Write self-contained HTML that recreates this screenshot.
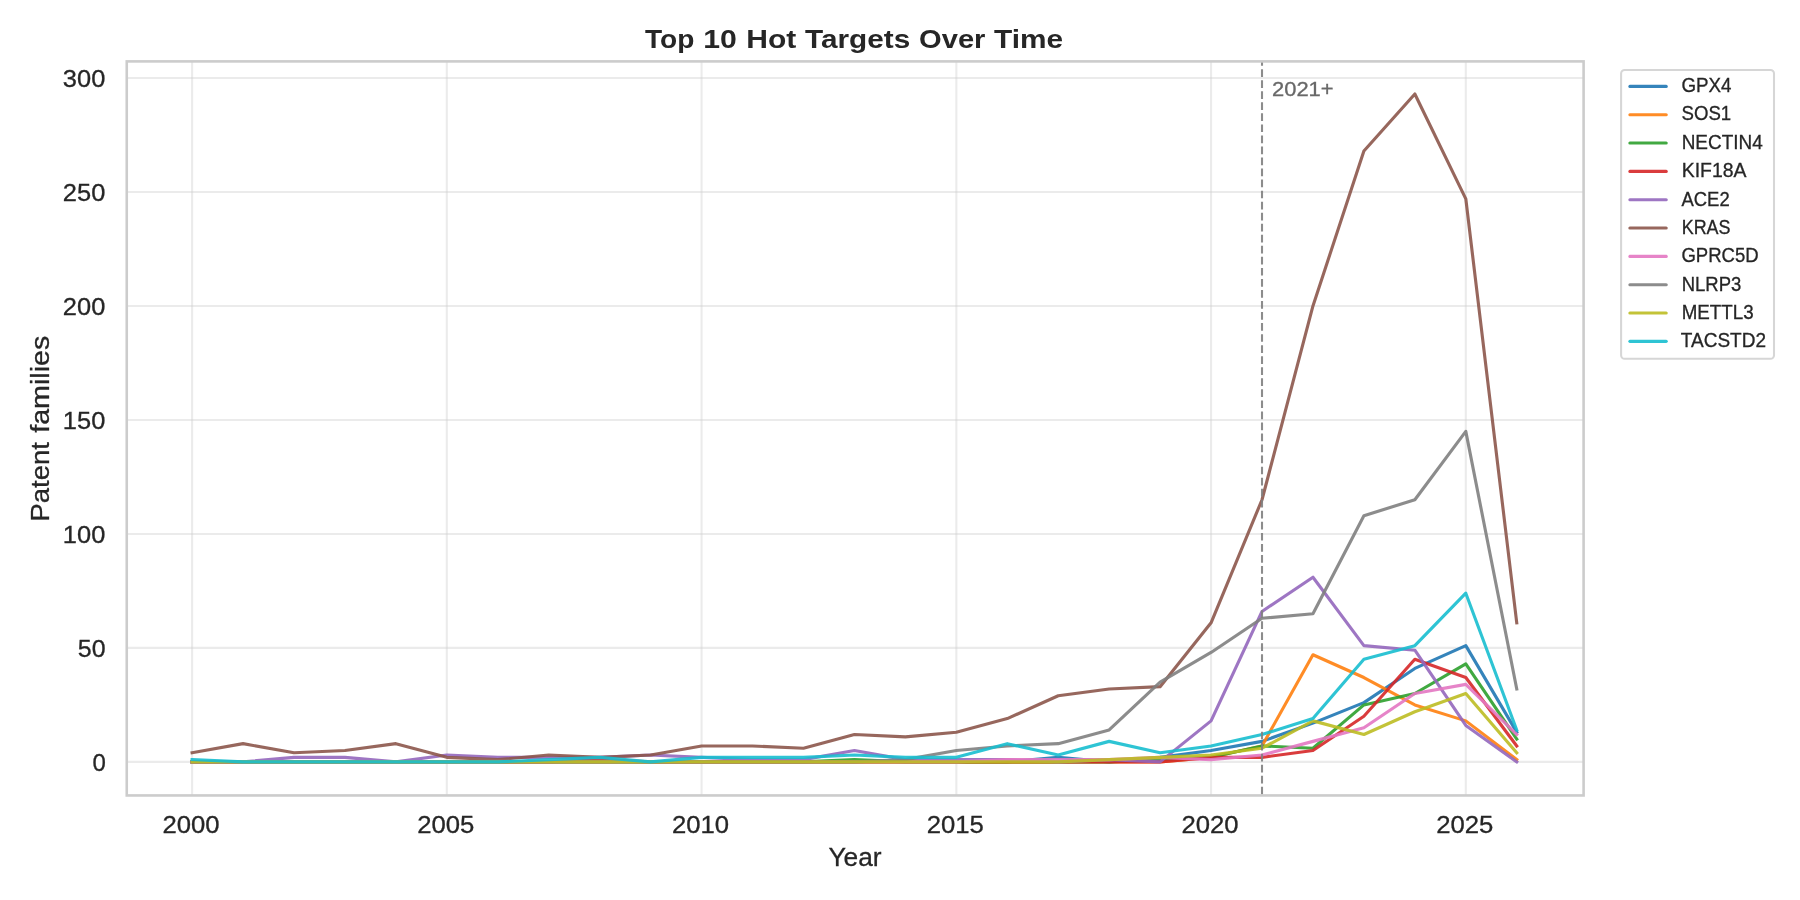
<!DOCTYPE html>
<html><head><meta charset="utf-8"><title>Top 10 Hot Targets Over Time</title>
<style>html,body{margin:0;padding:0;background:#fff;width:1800px;height:900px;overflow:hidden}</style>
</head><body>
<svg width="1800" height="900" viewBox="0 0 1800 900" style="display:block;will-change:transform">
<rect x="0" y="0" width="1800" height="900" fill="#ffffff"/>
<line x1="192.10" y1="61.40" x2="192.10" y2="795.45" stroke="#cccccc" stroke-opacity="0.4" stroke-width="2.08"/>
<line x1="446.84" y1="61.40" x2="446.84" y2="795.45" stroke="#cccccc" stroke-opacity="0.4" stroke-width="2.08"/>
<line x1="701.58" y1="61.40" x2="701.58" y2="795.45" stroke="#cccccc" stroke-opacity="0.4" stroke-width="2.08"/>
<line x1="956.32" y1="61.40" x2="956.32" y2="795.45" stroke="#cccccc" stroke-opacity="0.4" stroke-width="2.08"/>
<line x1="1211.06" y1="61.40" x2="1211.06" y2="795.45" stroke="#cccccc" stroke-opacity="0.4" stroke-width="2.08"/>
<line x1="1465.80" y1="61.40" x2="1465.80" y2="795.45" stroke="#cccccc" stroke-opacity="0.4" stroke-width="2.08"/>
<line x1="126.75" y1="761.90" x2="1583.60" y2="761.90" stroke="#cccccc" stroke-opacity="0.4" stroke-width="2.08"/>
<line x1="126.75" y1="647.91" x2="1583.60" y2="647.91" stroke="#cccccc" stroke-opacity="0.4" stroke-width="2.08"/>
<line x1="126.75" y1="533.93" x2="1583.60" y2="533.93" stroke="#cccccc" stroke-opacity="0.4" stroke-width="2.08"/>
<line x1="126.75" y1="419.94" x2="1583.60" y2="419.94" stroke="#cccccc" stroke-opacity="0.4" stroke-width="2.08"/>
<line x1="126.75" y1="305.96" x2="1583.60" y2="305.96" stroke="#cccccc" stroke-opacity="0.4" stroke-width="2.08"/>
<line x1="126.75" y1="191.97" x2="1583.60" y2="191.97" stroke="#cccccc" stroke-opacity="0.4" stroke-width="2.08"/>
<line x1="126.75" y1="77.99" x2="1583.60" y2="77.99" stroke="#cccccc" stroke-opacity="0.4" stroke-width="2.08"/>
<polyline points="192.10,761.90 243.05,761.90 294.00,761.90 344.94,761.90 395.89,761.90 446.84,761.90 497.79,761.90 548.74,761.90 599.68,761.90 650.63,761.90 701.58,761.90 752.53,761.90 803.48,761.90 854.42,761.90 905.37,761.90 956.32,761.90 1007.27,761.90 1058.22,757.34 1109.16,761.90 1160.11,757.34 1211.06,750.50 1262.01,741.38 1312.96,723.15 1363.90,702.63 1414.85,668.43 1465.80,645.64 1516.75,732.26" fill="none" stroke="#1f77b4" stroke-opacity="0.9" stroke-width="3.125" stroke-linejoin="round" stroke-linecap="square"/>
<polyline points="192.10,761.90 243.05,761.90 294.00,761.90 344.94,761.90 395.89,761.90 446.84,761.90 497.79,761.90 548.74,761.90 599.68,761.90 650.63,761.90 701.58,761.90 752.53,761.90 803.48,761.90 854.42,761.90 905.37,761.90 956.32,761.90 1007.27,761.90 1058.22,761.90 1109.16,761.90 1160.11,761.90 1211.06,757.34 1262.01,745.94 1312.96,654.75 1363.90,677.55 1414.85,704.91 1465.80,720.87 1516.75,759.62" fill="none" stroke="#ff7f0e" stroke-opacity="0.9" stroke-width="3.125" stroke-linejoin="round" stroke-linecap="square"/>
<polyline points="192.10,761.90 243.05,761.90 294.00,761.90 344.94,761.90 395.89,761.90 446.84,761.90 497.79,761.90 548.74,761.90 599.68,761.90 650.63,761.90 701.58,761.90 752.53,761.90 803.48,761.90 854.42,759.62 905.37,761.90 956.32,761.90 1007.27,761.90 1058.22,761.90 1109.16,761.90 1160.11,759.62 1211.06,757.34 1262.01,745.94 1312.96,748.22 1363.90,704.91 1414.85,693.51 1465.80,663.87 1516.75,739.10" fill="none" stroke="#2ca02c" stroke-opacity="0.9" stroke-width="3.125" stroke-linejoin="round" stroke-linecap="square"/>
<polyline points="192.10,761.90 243.05,761.90 294.00,761.90 344.94,761.90 395.89,761.90 446.84,761.90 497.79,761.90 548.74,761.90 599.68,759.62 650.63,761.90 701.58,761.90 752.53,761.90 803.48,761.90 854.42,761.90 905.37,761.90 956.32,761.90 1007.27,761.90 1058.22,761.90 1109.16,761.90 1160.11,761.90 1211.06,757.34 1262.01,757.34 1312.96,750.50 1363.90,716.31 1414.85,659.31 1465.80,677.55 1516.75,745.94" fill="none" stroke="#d62728" stroke-opacity="0.9" stroke-width="3.125" stroke-linejoin="round" stroke-linecap="square"/>
<polyline points="192.10,761.90 243.05,761.90 294.00,757.34 344.94,757.34 395.89,761.90 446.84,755.06 497.79,757.34 548.74,757.34 599.68,757.34 650.63,755.06 701.58,757.34 752.53,759.62 803.48,759.62 854.42,750.50 905.37,759.62 956.32,759.62 1007.27,759.62 1058.22,761.90 1109.16,759.62 1160.11,761.90 1211.06,720.87 1262.01,611.44 1312.96,577.24 1363.90,645.64 1414.85,650.19 1465.80,725.42 1516.75,761.90" fill="none" stroke="#9467bd" stroke-opacity="0.9" stroke-width="3.125" stroke-linejoin="round" stroke-linecap="square"/>
<polyline points="192.10,752.78 243.05,743.66 294.00,752.78 344.94,750.50 395.89,743.66 446.84,757.34 497.79,759.62 548.74,755.06 599.68,757.34 650.63,755.06 701.58,745.94 752.53,745.94 803.48,748.22 854.42,734.54 905.37,736.82 956.32,732.26 1007.27,718.59 1058.22,695.79 1109.16,688.95 1160.11,686.67 1211.06,622.84 1262.01,499.73 1312.96,305.96 1363.90,150.94 1414.85,93.95 1465.80,198.81 1516.75,622.84" fill="none" stroke="#8c564b" stroke-opacity="0.9" stroke-width="3.125" stroke-linejoin="round" stroke-linecap="square"/>
<polyline points="192.10,761.90 243.05,761.90 294.00,761.90 344.94,761.90 395.89,761.90 446.84,761.90 497.79,761.90 548.74,761.90 599.68,761.90 650.63,761.90 701.58,761.90 752.53,761.90 803.48,761.90 854.42,761.90 905.37,761.90 956.32,761.90 1007.27,759.62 1058.22,759.62 1109.16,759.62 1160.11,757.34 1211.06,759.62 1262.01,755.06 1312.96,741.38 1363.90,727.70 1414.85,693.51 1465.80,684.39 1516.75,734.54" fill="none" stroke="#e377c2" stroke-opacity="0.9" stroke-width="3.125" stroke-linejoin="round" stroke-linecap="square"/>
<polyline points="192.10,761.90 243.05,761.90 294.00,761.90 344.94,761.90 395.89,761.90 446.84,761.90 497.79,761.90 548.74,761.90 599.68,761.90 650.63,761.90 701.58,761.90 752.53,761.90 803.48,761.90 854.42,761.90 905.37,759.62 956.32,750.50 1007.27,745.94 1058.22,743.66 1109.16,729.98 1160.11,682.11 1211.06,652.47 1262.01,618.28 1312.96,613.72 1363.90,515.69 1414.85,499.73 1465.80,431.34 1516.75,688.95" fill="none" stroke="#7f7f7f" stroke-opacity="0.9" stroke-width="3.125" stroke-linejoin="round" stroke-linecap="square"/>
<polyline points="192.10,761.90 243.05,761.90 294.00,761.90 344.94,761.90 395.89,761.90 446.84,761.90 497.79,761.90 548.74,761.90 599.68,761.90 650.63,761.90 701.58,761.90 752.53,761.90 803.48,761.90 854.42,761.90 905.37,761.90 956.32,761.90 1007.27,761.90 1058.22,761.90 1109.16,759.62 1160.11,757.34 1211.06,755.06 1262.01,748.22 1312.96,720.87 1363.90,734.54 1414.85,711.75 1465.80,693.51 1516.75,752.78" fill="none" stroke="#bcbd22" stroke-opacity="0.9" stroke-width="3.125" stroke-linejoin="round" stroke-linecap="square"/>
<polyline points="192.10,759.62 243.05,761.90 294.00,761.90 344.94,761.90 395.89,761.90 446.84,761.90 497.79,761.90 548.74,759.62 599.68,757.34 650.63,761.90 701.58,757.34 752.53,757.34 803.48,757.34 854.42,755.06 905.37,757.34 956.32,757.34 1007.27,743.66 1058.22,755.06 1109.16,741.38 1160.11,752.78 1211.06,745.94 1262.01,734.54 1312.96,718.59 1363.90,659.31 1414.85,645.64 1465.80,593.20 1516.75,729.98" fill="none" stroke="#17becf" stroke-opacity="0.9" stroke-width="3.125" stroke-linejoin="round" stroke-linecap="square"/>
<line x1="1262.01" y1="795.45" x2="1262.01" y2="61.40" stroke="#808080" stroke-opacity="0.9" stroke-width="2.08" stroke-dasharray="7.708 3.333" stroke-dashoffset="-0.9"/>
<rect x="126.75" y="61.40" width="1456.85" height="734.05" fill="none" stroke="#cccccc" stroke-width="2.6"/>
<text x="162.45" y="833.00" font-family='"Liberation Sans", sans-serif' font-size="24.0" font-weight="normal" fill="#262626" stroke="#262626" stroke-width="0.3" textLength="57.14" lengthAdjust="spacingAndGlyphs">2000</text>
<text x="417.19" y="833.00" font-family='"Liberation Sans", sans-serif' font-size="24.0" font-weight="normal" fill="#262626" stroke="#262626" stroke-width="0.3" textLength="57.14" lengthAdjust="spacingAndGlyphs">2005</text>
<text x="671.93" y="833.00" font-family='"Liberation Sans", sans-serif' font-size="24.0" font-weight="normal" fill="#262626" stroke="#262626" stroke-width="0.3" textLength="57.14" lengthAdjust="spacingAndGlyphs">2010</text>
<text x="926.67" y="833.00" font-family='"Liberation Sans", sans-serif' font-size="24.0" font-weight="normal" fill="#262626" stroke="#262626" stroke-width="0.3" textLength="57.14" lengthAdjust="spacingAndGlyphs">2015</text>
<text x="1181.41" y="833.00" font-family='"Liberation Sans", sans-serif' font-size="24.0" font-weight="normal" fill="#262626" stroke="#262626" stroke-width="0.3" textLength="57.14" lengthAdjust="spacingAndGlyphs">2020</text>
<text x="1436.15" y="833.00" font-family='"Liberation Sans", sans-serif' font-size="24.0" font-weight="normal" fill="#262626" stroke="#262626" stroke-width="0.3" textLength="57.14" lengthAdjust="spacingAndGlyphs">2025</text>
<text x="92.57" y="770.75" font-family='"Liberation Sans", sans-serif' font-size="24.0" font-weight="normal" fill="#262626" stroke="#262626" stroke-width="0.3" textLength="13.36" lengthAdjust="spacingAndGlyphs">0</text>
<text x="77.85" y="656.76" font-family='"Liberation Sans", sans-serif' font-size="24.0" font-weight="normal" fill="#262626" stroke="#262626" stroke-width="0.3" textLength="27.75" lengthAdjust="spacingAndGlyphs">50</text>
<text x="62.83" y="542.78" font-family='"Liberation Sans", sans-serif' font-size="24.0" font-weight="normal" fill="#262626" stroke="#262626" stroke-width="0.3" textLength="42.45" lengthAdjust="spacingAndGlyphs">100</text>
<text x="62.83" y="428.80" font-family='"Liberation Sans", sans-serif' font-size="24.0" font-weight="normal" fill="#262626" stroke="#262626" stroke-width="0.3" textLength="42.45" lengthAdjust="spacingAndGlyphs">150</text>
<text x="62.83" y="314.81" font-family='"Liberation Sans", sans-serif' font-size="24.0" font-weight="normal" fill="#262626" stroke="#262626" stroke-width="0.3" textLength="42.45" lengthAdjust="spacingAndGlyphs">200</text>
<text x="62.83" y="200.82" font-family='"Liberation Sans", sans-serif' font-size="24.0" font-weight="normal" fill="#262626" stroke="#262626" stroke-width="0.3" textLength="42.45" lengthAdjust="spacingAndGlyphs">250</text>
<text x="62.83" y="86.84" font-family='"Liberation Sans", sans-serif' font-size="24.0" font-weight="normal" fill="#262626" stroke="#262626" stroke-width="0.3" textLength="42.45" lengthAdjust="spacingAndGlyphs">300</text>
<text x="645.05" y="47.50" font-family='"Liberation Sans", sans-serif' font-size="25.5" font-weight="bold" fill="#262626" textLength="49.34" lengthAdjust="spacingAndGlyphs">Top</text>
<text x="703.30" y="47.50" font-family='"Liberation Sans", sans-serif' font-size="25.5" font-weight="bold" fill="#262626" textLength="33.62" lengthAdjust="spacingAndGlyphs">10</text>
<text x="746.30" y="47.50" font-family='"Liberation Sans", sans-serif' font-size="25.5" font-weight="bold" fill="#262626" textLength="49.98" lengthAdjust="spacingAndGlyphs">Hot</text>
<text x="805.05" y="47.50" font-family='"Liberation Sans", sans-serif' font-size="25.5" font-weight="bold" fill="#262626" textLength="105.23" lengthAdjust="spacingAndGlyphs">Targets</text>
<text x="919.05" y="47.50" font-family='"Liberation Sans", sans-serif' font-size="25.5" font-weight="bold" fill="#262626" textLength="66.38" lengthAdjust="spacingAndGlyphs">Over</text>
<text x="994.05" y="47.50" font-family='"Liberation Sans", sans-serif' font-size="25.5" font-weight="bold" fill="#262626" textLength="69.06" lengthAdjust="spacingAndGlyphs">Time</text>
<text x="828.45" y="865.75" font-family='"Liberation Sans", sans-serif' font-size="26.0" font-weight="normal" fill="#262626" stroke="#262626" stroke-width="0.3" textLength="53.10" lengthAdjust="spacingAndGlyphs">Year</text>
<g transform="rotate(-90)"><text x="-521.55" y="48.55" font-family='"Liberation Sans", sans-serif' font-size="26.0" font-weight="normal" fill="#262626" stroke="#262626" stroke-width="0.3" textLength="79.42" lengthAdjust="spacingAndGlyphs">Patent</text><text x="-432.80" y="48.55" font-family='"Liberation Sans", sans-serif' font-size="26.0" font-weight="normal" fill="#262626" stroke="#262626" stroke-width="0.3" textLength="97.14" lengthAdjust="spacingAndGlyphs">families</text></g>
<text x="1272.00" y="95.75" font-family='"Liberation Sans", sans-serif' font-size="19.6" font-weight="normal" fill="#686868" stroke="#686868" stroke-width="0.3" textLength="61.63" lengthAdjust="spacingAndGlyphs">2021+</text>
<rect x="1621.1" y="70" width="152.90" height="288.80" rx="3.6" ry="3.6" fill="#ffffff" fill-opacity="0.8" stroke="#d6d6d6" stroke-width="2.08"/>
<line x1="1629.9" y1="86.40" x2="1666.2" y2="86.40" stroke="#1f77b4" stroke-opacity="0.9" stroke-width="3.125" stroke-linecap="round"/>
<text x="1681.40" y="92.05" font-family='"Liberation Sans", sans-serif' font-size="19.6" font-weight="normal" fill="#262626" stroke="#262626" stroke-width="0.3" textLength="50.03" lengthAdjust="spacingAndGlyphs">GPX4</text>
<line x1="1629.9" y1="114.73" x2="1666.2" y2="114.73" stroke="#ff7f0e" stroke-opacity="0.9" stroke-width="3.125" stroke-linecap="round"/>
<text x="1681.59" y="120.43" font-family='"Liberation Sans", sans-serif' font-size="19.6" font-weight="normal" fill="#262626" stroke="#262626" stroke-width="0.3" textLength="49.63" lengthAdjust="spacingAndGlyphs">SOS1</text>
<line x1="1629.9" y1="143.06" x2="1666.2" y2="143.06" stroke="#2ca02c" stroke-opacity="0.9" stroke-width="3.125" stroke-linecap="round"/>
<text x="1681.69" y="148.81" font-family='"Liberation Sans", sans-serif' font-size="19.6" font-weight="normal" fill="#262626" stroke="#262626" stroke-width="0.3" textLength="81.09" lengthAdjust="spacingAndGlyphs">NECTIN4</text>
<line x1="1629.9" y1="171.39" x2="1666.2" y2="171.39" stroke="#d62728" stroke-opacity="0.9" stroke-width="3.125" stroke-linecap="round"/>
<text x="1681.69" y="177.19" font-family='"Liberation Sans", sans-serif' font-size="19.6" font-weight="normal" fill="#262626" stroke="#262626" stroke-width="0.3" textLength="64.81" lengthAdjust="spacingAndGlyphs">KIF18A</text>
<line x1="1629.9" y1="199.72" x2="1666.2" y2="199.72" stroke="#9467bd" stroke-opacity="0.9" stroke-width="3.125" stroke-linecap="round"/>
<text x="1681.50" y="205.57" font-family='"Liberation Sans", sans-serif' font-size="19.6" font-weight="normal" fill="#262626" stroke="#262626" stroke-width="0.3" textLength="48.14" lengthAdjust="spacingAndGlyphs">ACE2</text>
<line x1="1629.9" y1="228.05" x2="1666.2" y2="228.05" stroke="#8c564b" stroke-opacity="0.9" stroke-width="3.125" stroke-linecap="round"/>
<text x="1681.69" y="233.95" font-family='"Liberation Sans", sans-serif' font-size="19.6" font-weight="normal" fill="#262626" stroke="#262626" stroke-width="0.3" textLength="48.76" lengthAdjust="spacingAndGlyphs">KRAS</text>
<line x1="1629.9" y1="256.38" x2="1666.2" y2="256.38" stroke="#e377c2" stroke-opacity="0.9" stroke-width="3.125" stroke-linecap="round"/>
<text x="1681.40" y="262.33" font-family='"Liberation Sans", sans-serif' font-size="19.6" font-weight="normal" fill="#262626" stroke="#262626" stroke-width="0.3" textLength="77.32" lengthAdjust="spacingAndGlyphs">GPRC5D</text>
<line x1="1629.9" y1="284.71" x2="1666.2" y2="284.71" stroke="#7f7f7f" stroke-opacity="0.9" stroke-width="3.125" stroke-linecap="round"/>
<text x="1681.69" y="290.71" font-family='"Liberation Sans", sans-serif' font-size="19.6" font-weight="normal" fill="#262626" stroke="#262626" stroke-width="0.3" textLength="59.62" lengthAdjust="spacingAndGlyphs">NLRP3</text>
<line x1="1629.9" y1="313.04" x2="1666.2" y2="313.04" stroke="#bcbd22" stroke-opacity="0.9" stroke-width="3.125" stroke-linecap="round"/>
<text x="1681.69" y="319.09" font-family='"Liberation Sans", sans-serif' font-size="19.6" font-weight="normal" fill="#262626" stroke="#262626" stroke-width="0.3" textLength="71.88" lengthAdjust="spacingAndGlyphs">METTL3</text>
<line x1="1629.9" y1="341.37" x2="1666.2" y2="341.37" stroke="#17becf" stroke-opacity="0.9" stroke-width="3.125" stroke-linecap="round"/>
<text x="1680.80" y="347.47" font-family='"Liberation Sans", sans-serif' font-size="19.6" font-weight="normal" fill="#262626" stroke="#262626" stroke-width="0.3" textLength="85.18" lengthAdjust="spacingAndGlyphs">TACSTD2</text>
</svg>
</body></html>
